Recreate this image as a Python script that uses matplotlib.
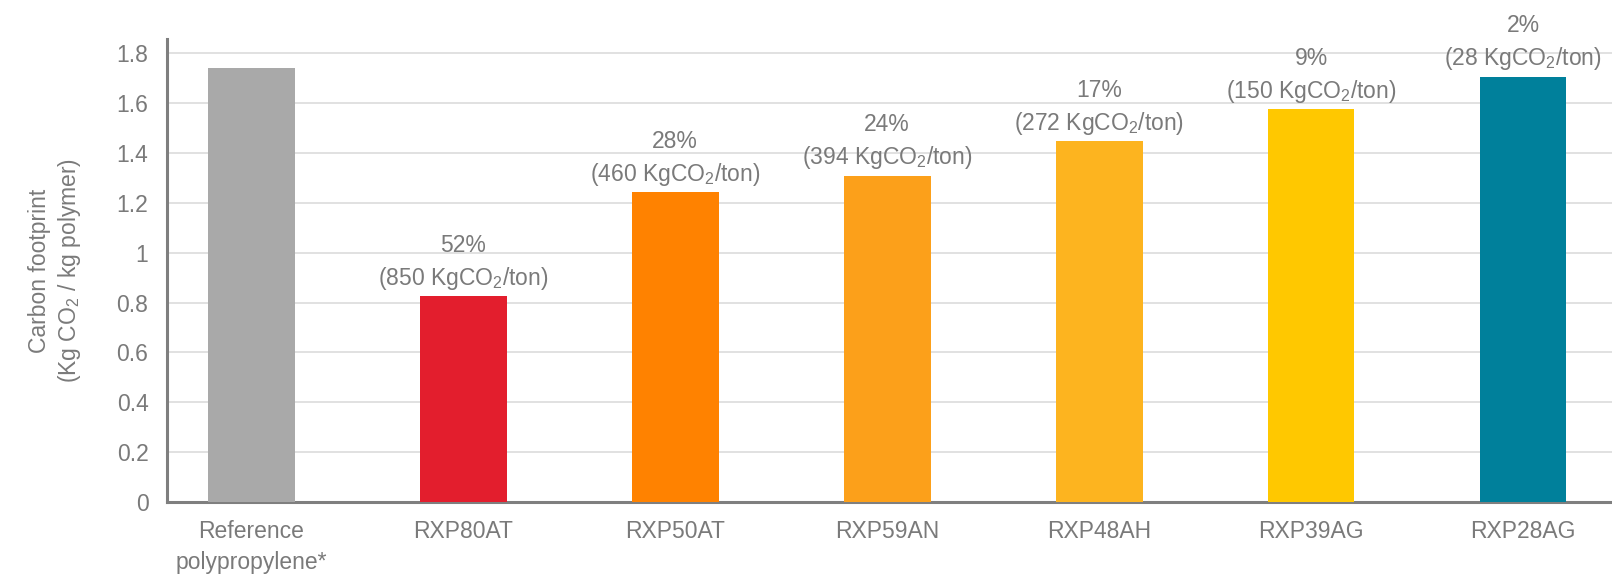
import matplotlib
matplotlib.use("Agg")
import matplotlib.pyplot as plt
import numpy as np

categories = ["Reference\npolypropylene*", "RXP80AT", "RXP50AT", "RXP59AN",
              "RXP48AH", "RXP39AG", "RXP28AG"]
footprint = [1.74, 0.826, 1.244, 1.31, 1.45, 1.578, 1.707]
reduction_pct = [None, 52, 28, 24, 17, 9, 2]
reduction_kg = [None, 850, 460, 394, 272, 150, 28]
colors = ["#a9a9a9", "#e31e2d", "#ff8200", "#fca01a", "#fdb41f", "#ffc800", "#00809b"]

plt.rcParams["font.family"] = ["Liberation Sans", "DejaVu Sans"]
plt.rcParams["mathtext.fontset"] = "custom"
plt.rcParams["mathtext.rm"] = "Liberation Sans"
plt.rcParams["mathtext.it"] = "Liberation Sans"

text_col = "#7a7a7a"
fs = 16.5

fig = plt.figure(figsize=(16.12, 5.78), dpi=100)
ax = fig.add_axes([0.1033, 0.1315, 0.8967, 0.801])

x = np.arange(len(categories))
bars = ax.bar(x, footprint, width=0.41, color=colors, zorder=3)

for xi, h, p, kg in zip(x, footprint, reduction_pct, reduction_kg):
    if p is None:
        continue
    ax.annotate(f"{p}%\n({kg} KgCO$_2$/ton)", (xi, h), xytext=(0, 3),
                textcoords="offset points", ha="center", va="bottom",
                fontsize=fs, color=text_col, linespacing=1.4)

ax.set_xlim(-0.4, 6.42)
ax.set_ylim(0, 1.858)
ax.set_yticks(np.arange(0, 1.81, 0.2))
ax.set_yticklabels(["0", "0.2", "0.4", "0.6", "0.8", "1", "1.2", "1.4", "1.6", "1.8"])
ax.set_xticks(x)
ax.set_xticklabels(categories, linespacing=1.45)
ax.tick_params(axis="both", length=0, labelsize=fs, labelcolor=text_col)
ax.tick_params(axis="x", pad=13)
ax.tick_params(axis="y", pad=13)

ax.grid(axis="y", color="#dcdcdc", linewidth=1.2, zorder=0)
ax.set_axisbelow(True)

for s in ["top", "right"]:
    ax.spines[s].set_visible(False)
for s in ["left", "bottom"]:
    ax.spines[s].set_color("#7f7f7f")
    ax.spines[s].set_linewidth(2.2)

ax.set_ylabel("Carbon footprint\n(Kg CO$_2$ / kg polymer)", fontsize=fs,
              color=text_col, linespacing=1.25, labelpad=24)

fig.savefig("out.png", dpi=100)
